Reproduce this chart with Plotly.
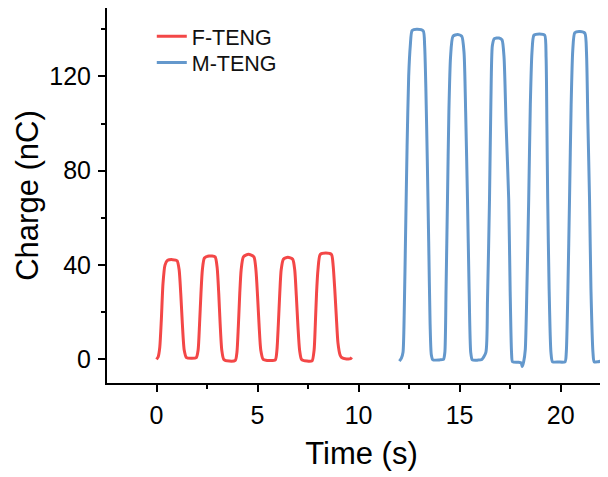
import plotly.graph_objects as go

# F-TENG (red) transferred charge
f_time = [0.00, 0.08, 0.16, 0.24, 0.32, 0.42, 0.55, 0.80, 1.02, 1.12, 1.20, 1.28, 1.37, 1.48, 1.75, 1.97,
          2.06, 2.13, 2.20, 2.27, 2.37, 2.60, 2.90, 3.00, 3.08, 3.15, 3.23, 3.33, 3.60, 3.90,
          3.98, 4.05, 4.12, 4.19, 4.30, 4.55, 4.82, 4.92, 5.00, 5.08, 5.16, 5.28, 5.60, 5.88,
          5.96, 6.03, 6.10, 6.17, 6.28, 6.50, 6.74, 6.84, 6.92, 7.00, 7.08, 7.18, 7.45, 7.70,
          7.80, 7.86, 7.92, 7.99, 8.10, 8.38, 8.66, 8.74, 8.82, 8.90, 8.98, 9.08, 9.16, 9.40, 9.60, 9.66]
f_charge = [0.0, 1.0, 5, 17, 32, 40, 42, 42.3, 41.8, 38, 28, 15, 4, 0.8, 0.5, 0.8,
            4, 15, 28, 38, 43, 43.8, 43.5, 39, 28, 15, 4, 0, -0.7, -0.4,
            3, 14, 28, 38, 43.5, 44.6, 43.5, 38, 27, 14, 4, 0, -0.5, -0.2,
            4, 15, 28, 38, 42.5, 43.3, 42.5, 38, 27, 14, 4, 0, -0.7, -0.6,
            4, 15, 28, 38, 44.5, 45.1, 44.5, 40, 30, 18, 7, 2, 0.8, 0.2, 0.3, 0.9]

# M-TENG (blue) transferred charge
m_time = [12.02, 12.12, 12.20, 12.26, 12.33, 12.40, 12.48, 12.56, 12.65, 12.90, 13.20, 13.27, 13.33, 13.40, 13.47, 13.54, 13.60, 13.68, 14.00, 14.20,
          14.27, 14.33, 14.40, 14.47, 14.55, 14.67, 14.90, 15.11, 15.22, 15.30, 15.39, 15.47, 15.55, 15.63, 15.90, 16.10,
          16.30, 16.38, 16.48, 16.55, 16.62, 16.72, 16.95, 17.10, 17.20, 17.30, 17.43, 17.50, 17.57, 17.62, 17.90, 18.05, 18.10, 18.17,
          18.25, 18.33, 18.42, 18.50, 18.58, 18.68, 18.95, 19.21, 19.28, 19.32, 19.36, 19.43, 19.52, 19.60, 19.90, 20.22,
          20.28, 20.36, 20.44, 20.52, 20.60, 20.70, 20.95, 21.20, 21.28, 21.35, 21.43, 21.50, 21.60, 21.66, 21.85, 21.97]
m_charge = [-0.7, 0.5, 3, 20, 55, 90, 120, 133, 139.5, 140, 139.3, 133, 115, 85, 50, 15, 2, -0.2, -0.2, 0,
            3, 30, 68, 105, 128, 137, 137.8, 137, 130, 105, 68, 30, 3, -0.2, -0.3, 0,
            3, 25, 68, 110, 133, 136, 136.3, 135.5, 128, 100, 68, 30, 3, -1, -1.2, -1.5, -3.0, -1,
            4, 30, 68, 108, 130, 137.5, 138, 137.5, 128, 100, 68, 30, 3, -1, -1.1, -1,
            3, 30, 68, 108, 131, 138.5, 139, 138.3, 130, 100, 68, 30, 3, -1, -1, -0.8]

x_ticks = [0, 5, 10, 15, 20]
y_ticks = [0, 40, 80, 120]

FONT = "Arial, Liberation Sans, sans-serif"

fig = go.Figure()
fig.add_trace(go.Scatter(x=f_time, y=f_charge, mode="lines", name="F-TENG", legend="legend",
                         line=dict(color="#F34747", width=3, shape="spline", smoothing=0.6)))
fig.add_trace(go.Scatter(x=m_time, y=m_charge, mode="lines", name="M-TENG", legend="legend2",
                         line=dict(color="#6498CC", width=3, shape="spline", smoothing=0.6)))

legend_common = dict(xanchor="left", yanchor="top", bgcolor="rgba(0,0,0,0)", borderwidth=0,
                     font=dict(size=21.5, family=FONT, color="#111111"))

fig.update_layout(
    width=608, height=477,
    margin=dict(l=99, r=0, t=0, b=102, autoexpand=False),
    paper_bgcolor="white", plot_bgcolor="white",
    font=dict(family=FONT, color="black"),
    showlegend=True,
    legend=dict(x=0.088, y=0.979, **legend_common),
    legend2=dict(x=0.088, y=0.909, **legend_common),
    xaxis=dict(range=[-2.45, 22.74], tickvals=x_ticks, ticktext=[str(v) for v in x_ticks],
               automargin=False,
               showgrid=False, zeroline=False, showline=True, linecolor="black", linewidth=2,
               mirror=True, ticks="outside", ticklen=7, tickwidth=2, tickcolor="black",
               ticklabelstandoff=2,
               tickfont=dict(size=25, family=FONT, color="black"),
               minor=dict(tickvals=[2.5, 7.5, 12.5, 17.5], ticks="outside", ticklen=4, tickwidth=2, tickcolor="black"),
               title=dict(text="Time (s)", font=dict(size=31, family=FONT, color="black"), standoff=14)),
    yaxis=dict(range=[-10, 149], tickvals=y_ticks, ticktext=[str(v) for v in y_ticks],
               automargin=False,
               showgrid=False, zeroline=False, showline=True, linecolor="black", linewidth=2,
               ticks="outside", ticklen=7, tickwidth=2, tickcolor="black",
               ticklabelstandoff=2,
               tickfont=dict(size=25, family=FONT, color="black"),
               minor=dict(tickvals=[20, 60, 100, 140], ticks="outside", ticklen=4, tickwidth=2, tickcolor="black"),
               title=dict(text="Charge (nC)", font=dict(size=31, family=FONT, color="black"), standoff=1)),
)

fig.write_html("out.html")
